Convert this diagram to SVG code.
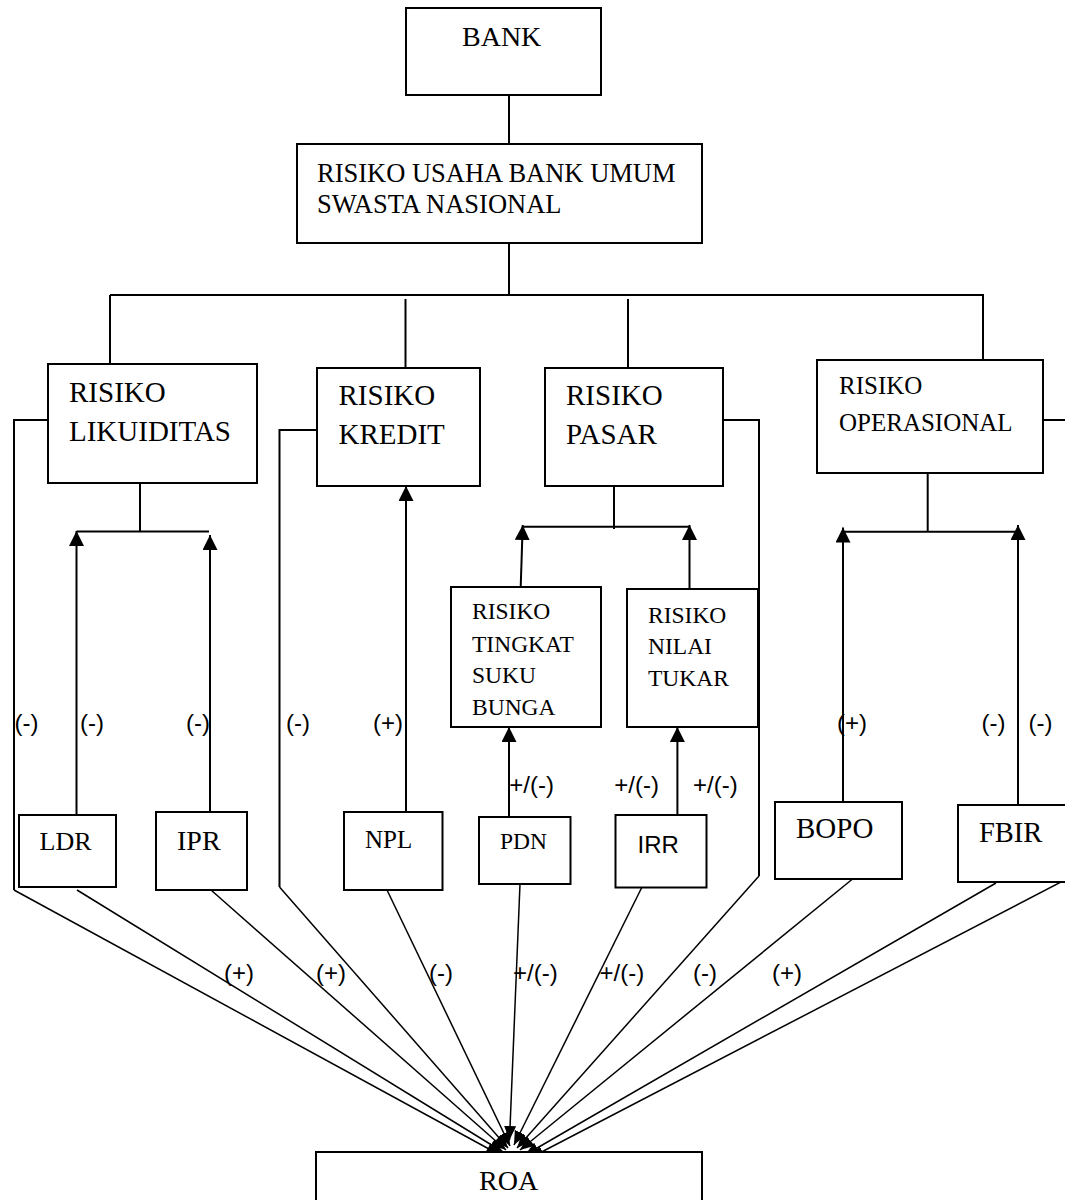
<svg xmlns="http://www.w3.org/2000/svg" width="1065" height="1200" viewBox="0 0 1065 1200">
<defs>
<style>
.box{fill:#fff;stroke:#000;stroke-width:2}
.t{font-family:"Liberation Serif","Times New Roman",serif;fill:#000}
.s{font-family:"Liberation Sans",Arial,sans-serif;fill:#000}
.lbl{font-family:"Liberation Sans",Arial,sans-serif;font-size:24px;fill:#000}
.ln{stroke:#000;stroke-width:2;fill:none}
.dg{stroke:#000;stroke-width:1.5;fill:none}
.up{marker-end:url(#ah)}
.ar{marker-end:url(#ah2)}
</style>
<marker id="ah" markerUnits="userSpaceOnUse" markerWidth="16" markerHeight="16" refX="15" refY="7.5" orient="auto">
<path d="M0,0 L15,7.5 L0,15 z" fill="#000"/>
</marker>
<marker id="ah2" markerUnits="userSpaceOnUse" markerWidth="15" markerHeight="13" refX="14" refY="6" orient="auto">
<path d="M0,0 L14,6 L0,12 z" fill="#000"/>
</marker>
</defs>
<rect width="1065" height="1200" fill="#fff"/>

<g id="connectors">
<path class="ln" d="M509,95 V144"/>
<path class="ln" d="M509,243 V295"/>
<path class="ln" d="M110,295 H983 V360"/>
<path class="ln" d="M110,295 V364"/>
<path class="ln" d="M405.5,299 V368"/>
<path class="ln" d="M628,299 V368"/>
<path class="ln" d="M1043,420 H1065"/>
<path class="ln" d="M140,483 V531"/>
<path class="ln" d="M76.5,531.5 H209"/>
<path class="ln up" d="M76.5,815 V531"/>
<path class="ln up" d="M210,812 V535"/>
<path class="ln up" d="M406,812 V486"/>
<path class="ln" d="M614,486 V529"/>
<path class="ln" d="M522.7,526.7 H689.3"/>
<path class="ln up" d="M520.7,587 L522.7,525"/>
<path class="ln up" d="M689.5,589 V525"/>
<path class="ln up" d="M509,817 V727"/>
<path class="ln up" d="M677.4,815 V727"/>
<path class="ln" d="M927.7,473 V531.7"/>
<path class="ln" d="M843,531.7 H1018"/>
<path class="ln up" d="M843,802 V527.5"/>
<path class="ln up" d="M1018,805 V525"/>
<path class="ln" d="M48,420 H14 V890"/>
<path class="ln" d="M317,430 H279.5 V887"/>
<path class="ln" d="M723,420 H759 V876"/>
<path class="dg ar" d="M14,890 L500,1155"/>
<path class="dg ar" d="M77,890 L503,1152"/>
<path class="dg ar" d="M211,890 L506,1150"/>
<path class="dg ar" d="M279.5,887 L508,1148"/>
<path class="dg ar" d="M387,890 L510,1146"/>
<path class="dg ar" d="M520,884 L509.5,1140"/>
<path class="dg ar" d="M642,887 L514,1145"/>
<path class="dg ar" d="M759,876 L517,1148"/>
<path class="dg ar" d="M855,877 L520,1150"/>
<path class="dg ar" d="M996,883 L525,1155"/>
<path class="dg ar" d="M1065,880 L530,1158"/>
</g>

<g id="labels">
<text class="lbl" x="14.5" y="731">(-)</text>
<text class="lbl" x="80" y="731">(-)</text>
<text class="lbl" x="186" y="731">(-)</text>
<text class="lbl" x="286" y="731">(-)</text>
<text class="lbl" x="373" y="731">(+)</text>
<text class="lbl" x="837" y="731">(+)</text>
<text class="lbl" x="981.5" y="731">(-)</text>
<text class="lbl" x="1028.5" y="731">(-)</text>
<text class="lbl" x="509.3" y="793">+/(-)</text>
<text class="lbl" x="614.3" y="793">+/(-)</text>
<text class="lbl" x="693" y="793">+/(-)</text>
<text class="lbl" x="224" y="981">(+)</text>
<text class="lbl" x="316" y="981">(+)</text>
<text class="lbl" x="429" y="981">(-)</text>
<text class="lbl" x="513" y="981">+/(-)</text>
<text class="lbl" x="599.5" y="981">+/(-)</text>
<text class="lbl" x="693" y="981">(-)</text>
<text class="lbl" x="772" y="981">(+)</text>
</g>

<g id="bank"><rect class="box" x="406" y="8" width="195" height="87"/><text class="t" x="462" y="46" font-size="28">BANK</text></g>
<g id="risiko-usaha"><rect class="box" x="297" y="144" width="405" height="99"/><text class="t" x="317" y="182" font-size="26.5">RISIKO USAHA BANK UMUM</text><text class="t" x="317" y="213" font-size="26.5">SWASTA NASIONAL</text></g>
<g id="risiko-likuiditas"><rect class="box" x="48" y="364" width="209" height="119"/><text class="t" x="69" y="402" font-size="29">RISIKO</text><text class="t" x="69" y="441" font-size="29">LIKUIDITAS</text></g>
<g id="risiko-kredit"><rect class="box" x="317" y="368" width="163" height="118"/><text class="t" x="338.5" y="405" font-size="29">RISIKO</text><text class="t" x="338.5" y="444" font-size="29">KREDIT</text></g>
<g id="risiko-pasar"><rect class="box" x="545" y="368" width="178" height="118"/><text class="t" x="566" y="405" font-size="29">RISIKO</text><text class="t" x="566" y="444" font-size="29">PASAR</text></g>
<g id="risiko-operasional"><rect class="box" x="817" y="360" width="226" height="113"/><text class="t" x="839" y="394" font-size="25">RISIKO</text><text class="t" x="839" y="431" font-size="25">OPERASIONAL</text></g>
<g id="risiko-tsb"><rect class="box" x="451" y="587" width="150" height="140"/><text class="t" x="472" y="619" font-size="23.5">RISIKO</text><text class="t" x="472" y="651.5" font-size="23.5">TINGKAT</text><text class="t" x="472" y="683" font-size="23.5">SUKU</text><text class="t" x="472" y="714.5" font-size="23.5">BUNGA</text></g>
<g id="risiko-nilai-tukar"><rect class="box" x="627" y="589" width="131" height="138"/><text class="t" x="648" y="623" font-size="23.5">RISIKO</text><text class="t" x="648" y="654" font-size="23.5">NILAI</text><text class="t" x="648" y="685.5" font-size="23.5">TUKAR</text></g>
<g id="ldr"><rect class="box" x="19" y="815" width="97" height="72"/><text class="t" x="39.6" y="850" font-size="26">LDR</text></g>
<g id="ipr"><rect class="box" x="156" y="812" width="91" height="78"/><text class="t" x="177" y="850" font-size="28">IPR</text></g>
<g id="npl"><rect class="box" x="344" y="812" width="98.5" height="78"/><text class="t" x="365" y="848" font-size="25">NPL</text></g>
<g id="pdn"><rect class="box" x="479" y="817" width="91.5" height="67"/><text class="t" x="500" y="849" font-size="23.5">PDN</text></g>
<g id="irr"><rect class="box" x="615.5" y="815" width="91" height="72.5"/><text class="s" x="637.5" y="853" font-size="24">IRR</text></g>
<g id="bopo"><rect class="box" x="775" y="802" width="127" height="77"/><text class="t" x="796" y="838" font-size="29">BOPO</text></g>
<g id="fbir"><rect class="box" x="958" y="805" width="112" height="77"/><text class="t" x="979" y="842" font-size="28.5">FBIR</text></g>
<g id="roa"><rect class="box" x="316" y="1152" width="386" height="60"/><text class="t" x="479" y="1190" font-size="28">ROA</text></g>
</svg>
